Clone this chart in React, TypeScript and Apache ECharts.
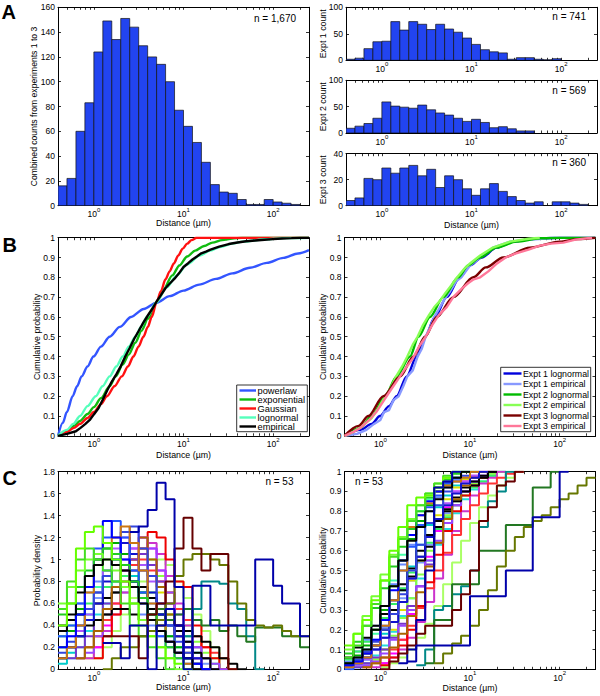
import React, { useEffect, useRef } from "react";
import * as echarts from "echarts";

const FONT = "'Liberation Sans', Arial, Helvetica, sans-serif";

// ---------------- data ----------------
// log-spaced bin edges (µm), 0.1 decade wide
const BIN_EDGES = [0.398, 0.501, 0.631, 0.794, 1, 1.259, 1.585, 1.995, 2.512, 3.162, 3.981, 5.012, 6.31, 7.943, 10, 12.59, 15.85, 19.95, 25.12, 31.62, 39.81, 50.12, 63.1, 79.43, 100, 125.9, 158.5, 199.5, 251.2];
const X_RANGE = [0.398, 251.2];
const X_MAJOR = [1, 10, 100];
const X_MINOR = [0.5, 0.6, 0.7, 0.8, 0.9, 2, 3, 4, 5, 6, 7, 8, 9, 20, 30, 40, 50, 60, 70, 80, 90, 200];

// Panel A histograms (counts per bin)
const HIST_ALL = [16, 22, 60, 83, 124, 149, 134, 151, 144, 129, 120, 114, 100, 77, 64, 51, 35, 17, 11, 10, 5, 1, 1, 5, 3, 2, 1];
const HIST_E1 = [2, 4, 22, 35, 36, 73, 57, 73, 68, 58, 68, 59, 53, 42, 30, 20, 16, 14, 2, 5, 5, 2, 1, 3];
const HIST_E2 = [9, 13, 18, 28, 59, 51, 49, 47, 53, 44, 38, 34, 28, 22, 26, 20, 10, 12, 8, 4, 4];
const HIST_E3 = [4, 6, 21, 20, 29, 25, 29, 31, 23, 28, 14, 23, 20, 13, 8, 13, 17, 11, 7, 4, 2, 3, 0, 3, 3, 2, 1];

// Panel B left: [distance µm, cumulative probability]
const B_POWERLAW = [[0.398, 0], [0.45, 0.065], [0.5, 0.12], [0.58, 0.2], [0.65, 0.25], [0.73, 0.3], [0.85, 0.35], [0.99, 0.4], [1.2, 0.45], [1.5, 0.5], [1.95, 0.55], [2.6, 0.6], [3.6, 0.64], [5.0, 0.672], [7, 0.705], [10, 0.733], [15, 0.763], [23, 0.792], [35, 0.82], [55, 0.848], [85, 0.873], [130, 0.898], [190, 0.92], [251, 0.937]];
const B_EXPONENTIAL = [[0.398, 0], [0.5, 0.025], [0.6, 0.05], [0.7, 0.075], [0.85, 0.11], [1.0, 0.145], [1.2, 0.19], [1.5, 0.25], [1.75, 0.3], [2.1, 0.36], [2.45, 0.41], [2.9, 0.47], [3.4, 0.53], [4.0, 0.59], [5.0, 0.674], [6.0, 0.74], [7.5, 0.81], [9.0, 0.86], [11, 0.905], [13.5, 0.935], [17, 0.958], [21, 0.975], [27, 0.988], [35, 0.996], [45, 1.0], [251, 1.0]];
const B_GAUSSIAN = [[0.398, 0], [0.5, 0.02], [0.6, 0.04], [0.7, 0.06], [0.85, 0.09], [1.0, 0.12], [1.2, 0.16], [1.4, 0.2], [1.7, 0.25], [2.05, 0.3], [2.4, 0.35], [2.76, 0.4], [3.15, 0.45], [3.57, 0.5], [4.0, 0.55], [4.42, 0.6], [5.0, 0.674], [5.6, 0.73], [6.3, 0.79], [7.0, 0.83], [7.8, 0.87], [8.75, 0.91], [9.8, 0.945], [11, 0.97], [12.3, 0.988], [14, 1.0], [251, 1.0]];
const B_LOGNORMAL = [[0.398, 0], [0.5, 0.03], [0.59, 0.06], [0.7, 0.1], [0.85, 0.15], [1.05, 0.2], [1.25, 0.25], [1.5, 0.3], [1.78, 0.35], [2.1, 0.4], [2.45, 0.45], [2.9, 0.5], [3.35, 0.55], [3.9, 0.6], [5.0, 0.674], [6.5, 0.75], [8.4, 0.81], [11, 0.865], [15.2, 0.91], [20, 0.935], [25.5, 0.953], [35, 0.97], [46, 0.98], [80, 0.992], [130, 0.998], [251, 1.0]];
const B_EMPIRICAL = [[0.398, 0], [0.5, 0.01], [0.63, 0.023], [0.71, 0.04], [0.8, 0.059], [0.9, 0.08], [1.0, 0.108], [1.13, 0.14], [1.26, 0.183], [1.41, 0.23], [1.58, 0.272], [1.78, 0.31], [2.0, 0.352], [2.24, 0.4], [2.51, 0.443], [2.82, 0.49], [3.16, 0.529], [3.55, 0.57], [3.98, 0.606], [4.47, 0.64], [5.01, 0.678], [5.6, 0.71], [6.31, 0.746], [7.08, 0.77], [7.94, 0.793], [8.9, 0.82], [10, 0.852], [11.2, 0.87], [12.6, 0.89], [14.1, 0.905], [15.8, 0.921], [17.8, 0.93], [20, 0.94], [25, 0.955], [32, 0.968], [40, 0.976], [50, 0.982], [63, 0.986], [80, 0.99], [100, 0.993], [126, 0.996], [160, 0.998], [200, 1.0], [251, 1.0]];

// Panel B right
const E1_LOGN = [[0.398, 0], [0.6, 0.03], [0.8, 0.06], [0.99, 0.1], [1.25, 0.15], [1.52, 0.2], [1.97, 0.3], [2.54, 0.4], [3.15, 0.5], [4.07, 0.6], [5.49, 0.7], [7.73, 0.8], [10, 0.86], [13.5, 0.9], [19.8, 0.95], [30.3, 0.98], [50, 0.995], [100, 1.0], [251, 1.0]];
const E1_EMP = [[0.398, 0], [0.55, 0.01], [0.7, 0.03], [0.85, 0.06], [1.0, 0.08], [1.1, 0.12], [1.25, 0.13], [1.4, 0.18], [1.6, 0.2], [1.8, 0.25], [2.0, 0.3], [2.3, 0.33], [2.6, 0.4], [2.9, 0.44], [3.2, 0.5], [3.6, 0.55], [4.0, 0.6], [4.5, 0.64], [5.2, 0.69], [6.0, 0.73], [7.0, 0.78], [8.0, 0.8], [10, 0.86], [13, 0.9], [18, 0.95], [28, 0.98], [45, 0.99], [90, 1.0]];
const E2_LOGN = [[0.398, 0], [0.6, 0.04], [0.8, 0.1], [1.13, 0.2], [1.52, 0.3], [2.14, 0.4], [2.66, 0.5], [3.58, 0.6], [5.04, 0.7], [7.41, 0.8], [9.5, 0.86], [12.9, 0.9], [19.8, 0.95], [33, 0.98], [60, 0.997], [100, 1.0], [251, 1.0]];
const E2_EMP = [[0.398, 0], [0.5, 0.02], [0.63, 0.05], [0.8, 0.09], [0.95, 0.14], [1.1, 0.19], [1.3, 0.24], [1.5, 0.3], [1.75, 0.35], [2.0, 0.4], [2.3, 0.46], [2.6, 0.5], [3.0, 0.56], [3.5, 0.61], [4.0, 0.65], [4.6, 0.68], [5.3, 0.72], [6.2, 0.76], [7.2, 0.8], [8.5, 0.84], [10, 0.87], [13, 0.91], [18, 0.95], [28, 0.98], [45, 0.995], [60, 1.0]];
const E3_LOGN = [[0.398, 0], [0.57, 0.05], [0.736, 0.1], [1.08, 0.2], [1.66, 0.3], [2.34, 0.4], [3.15, 0.5], [4.25, 0.6], [6.52, 0.7], [10.9, 0.8], [15, 0.85], [23.5, 0.9], [46.5, 0.95], [100, 0.98], [160, 0.993], [251, 1.0]];
const E3_EMP = [[0.398, 0], [0.5, 0.02], [0.6, 0.04], [0.75, 0.08], [0.9, 0.12], [1.1, 0.18], [1.3, 0.23], [1.6, 0.29], [1.9, 0.34], [2.3, 0.39], [2.7, 0.45], [3.2, 0.5], [3.8, 0.56], [4.5, 0.61], [5.5, 0.65], [6.5, 0.7], [8, 0.74], [9.5, 0.77], [11, 0.79], [13, 0.8], [16, 0.83], [20, 0.87], [25, 0.9], [32, 0.92], [45, 0.94], [60, 0.96], [80, 0.97], [110, 0.975], [150, 0.99], [230, 1.0]];

// Panel C left: probability density per bin (null = no line)
const PDF_LIME1 = [0.4, 0.6, 1.1, 1.25, 1.3, 1.15, 1.0, 0.8, 0.6, 0.4, 0.3, 0.2, 0.1, 0.05, 0];
const PDF_LIME2 = [0.55, 0.8, 1.0, 1.1, 1.0, 0.9, 0.8, 0.6, 0.4, 0.3, 0.2, 0.1, 0];
const PDF_BLACK1 = [0.35, 0.5, 0.7, 0.85, 0.95, 1.0, 0.95, 0.9, 0.75, 0.6, 0.45, 0.35, 0.25, 0.15, 0.1, 0];
const PDF_BLACK2 = [0.1, 0.2, 0.3, 0.4, 0.45, 0.5, 0.55, 0.55, 0.5, 0.45, 0.55, 0.5, 0.45, 0.4, 0.35, 0.3, 0.25, 0.2, 0.1, 0.05, 0];
const PDF_BLUE1 = [0.2, 0.3, 0.5, 0.75, 1.0, 1.35, 1.2, 1.0, 0.8, 0.6, 0.45, 0.35, 0.25, 0.15, 0.1, 0.05, 0];
const PDF_BLUE2 = [0.3, 0.4, 0.6, 0.85, 1.1, 1.2, 1.35, 1.2, 0.9, 0.7, 0.5, 0.3, 0.2, 0.1, 0.05, 0];
const PDF_ORANGE = [0.1, 0.2, 0.4, 0.7, 1.0, 1.15, 1.2, 1.3, 1.15, 0.9, 0.6, 0.4, 0.25, 0.15, 0.05, 0];
const PDF_PURPLE = [null, null, 0.1, 0.15, 0.3, 0.5, 0.7, 1.0, 1.25, 1.2, 1.1, 0.9, 0.7, 0.5, 0.35, 0.2, 0.1, 0.05, 0];
const PDF_MAGENTA = [null, null, null, null, 0.2, 0.4, 0.6, 0.9, 1.1, 1.2, 1.1, 0.9, 0.6, 0.4, 0.2, 0.1, 0];
const PDF_RED = [null, null, null, null, 0.1, 0.3, 0.5, 0.75, 1.0, 1.1, 1.25, 1.2, 1.0, 0.8, 0.75, 0.4, 0.2, 0.1, 0];
const PDF_GREEN = [0.2, 0.35, 0.55, 0.75, 0.95, 1.1, 1.15, 1.05, 0.9, 0.7, 0.5, 0.4, 0.3, 0.2, 0.1, 0.05, 0];
const PDF_CYAN = [0.05, 0.15, 0.3, 0.5, 0.7, 0.9, 1.0, 0.95, 0.85, 0.7, 0.55, 0.45, 0.3, 0.2, 0.1, 0];
const PDF_AQUA = [0.1, 0.2, 0.35, 0.55, 0.75, 0.85, 0.95, 0.9, 0.8, 0.65, 0.55, 0.5, 0.4, 0.3, 0.2, 0.1, 0];
const PDF_LTGREEN = [null, null, 0.1, 0.2, 0.35, 0.5, 0.7, 0.9, 1.05, 1.1, 1.0, 0.85, 0.7, 0.55, 0.4, 0.25, 0.15, 0.1, 0];
const PDF_LTBLUE = [0.3, 0.45, 0.6, 0.7, 0.8, 0.85, 0.8, 0.7, 0.6, 0.5, 0.4, 0.3, 0.25, 0.15, 0.1, 0];
const PDF_YELLOW = [null, null, null, 0.1, 0.3, 0.5, 0.7, 0.9, 1.0, 0.95, 0.85, 0.7, 0.5, 0.35, 0.2, 0.1, 0];
const PDF_VIOLET = [null, 0.2, 0.35, 0.5, 0.7, 0.9, 1.1, 1.2, 1.1, 0.95, 0.8, 0.6, 0.45, 0.3, 0.2, 0.1, 0];
const PDF_GREEN2 = [0.5, 0.6, 0.75, 0.9, 1.0, 1.1, 1.05, 0.95, 0.8, 0.65, 0.5, 0.35, 0.2, 0.1, 0];
const PDF_BLUE3 = [0.15, 0.25, 0.4, 0.55, 0.7, 0.85, 1.05, 1.25, 1.3, 1.1, 0.85, 0.6, 0.4, 0.25, 0.15, 0.05, 0];
const PDF_RED2 = [null, null, 0.1, 0.2, 0.3, 0.45, 0.6, 0.8, 0.95, 1.0, 0.9, 0.8, 0.7, 0.55, 0.45, 0.3, 0.2, 0.15, 0.1, 0];
const PDF_LIME3 = [0.6, 0.75, 0.9, 1.0, 1.05, 1.0, 0.9, 0.75, 0.6, 0.45, 0.3, 0.2, 0.1, 0];
const PDF_PERI = [0.2, 0.3, 0.4, 0.55, 0.65, 0.75, 0.8, 0.85, 0.8, 0.7, 0.6, 0.5, 0.4, 0.3, 0.2, 0.1, 0.05, 0];
const PDF_CYAN2 = [null, 0.1, 0.2, 0.35, 0.5, 0.6, 0.7, 0.8, 0.75, 0.65, 0.55, 0.5, 0.45, 0.35, 0.25, 0.15, 0.1, 0];
const PDF_BROWN = [null, null, 0.1, 0.2, 0.35, 0.55, 0.75, 0.95, 1.15, 1.2, 1.0, 0.75, 0.5, 0.3, 0.15, 0.05, 0];
const PDF_MAGENTA2 = [null, null, null, 0.1, 0.2, 0.35, 0.5, 0.7, 0.9, 1.05, 1.15, 1.05, 0.85, 0.6, 0.4, 0.2, 0.1, 0];
const PDF_GREEN3 = [0.3, 0.4, 0.5, 0.6, 0.7, 0.75, 0.8, 0.85, 0.8, 0.75, 0.7, 0.6, 0.5, 0.4, 0.3, 0.2, 0.1, 0.05, 0];
const PDF_BLACK3 = [0.4, 0.45, 0.5, 0.55, 0.6, 0.65, 0.7, 0.75, 0.8, 0.75, 0.65, 0.55, 0.45, 0.35, 0.25, 0.15, 0.1, 0];
const PDF_BLUE4 = [0.1, 0.2, 0.3, 0.45, 0.6, 0.8, 1.0, 1.15, 1.05, 0.9, 0.7, 0.5, 0.4, 0.3, 0.2, 0.1, 0];
const PDF_LTGREEN2 = [null, null, null, null, 0.1, 0.2, 0.35, 0.5, 0.65, 0.8, 0.95, 1.0, 0.95, 0.8, 0.65, 0.5, 0.35, 0.2, 0.1, 0];
const PDF_PURPLE2 = [null, 0.1, 0.2, 0.3, 0.45, 0.6, 0.75, 0.9, 1.0, 1.05, 0.95, 0.8, 0.6, 0.4, 0.25, 0.1, 0];
const PDF_TEAL = [null, null, null, null, null, null, null, null, null, null, null, null, null, null, 0.3, 0.55, 0.8, 0.8, 0.78, 0.6, 0.55, 0.3, 0];
const PDF_DKGREEN = [null, null, null, null, null, null, null, null, null, 0.3, 0.5, 0.55, 0.45, 0.5, 0.55, 0.45, 0.4, 0.45, 0.35, 0.4, 0.3, 0.25, 0.38, 0.38, 0.38, 0.3, 0.3, 0.2];
const PDF_OLIVE = [null, null, null, null, null, 0, 0.1, 0.2, 0.2, 0.3, 0.35, 0.45, 0.6, 0.85, 1.0, 1.05, 1.05, 1.0, 0.95, 0.8, 0.6, 0.45, 0.4, 0.38, 0.4, 0.35, 0.3, 0.3];
const PDF_DKRED = [null, null, null, null, null, 0.3, 0.3, 0.3, 0.3, 0.1, 0.5, 0.6, 0.8, 1.1, 1.38, 1.1, 0.9, 1.05, 1.05, 0];
const PDF_BLUE_FAR = [null, null, null, null, null, 0.24, 0.24, 0.1, 0.4, 0.4, 0, 0.4, 0.55, 0.4, 0.1, 0.76, 0.76, 0.4, 0.4, 0.4, 0.4, 0.4, 1.0, 1.0, 0.76, 0.6, 0.6, 0.3];
const PDF_BLUE_TALL = [null, null, null, null, null, null, null, null, 1.25, 1.3, 1.45, 1.7, 1.55, 0.75, 0];

// Panel C right: cumulative probability per bin
const CDF_LIME1 = [0.12, 0.18, 0.25, 0.35, 0.45, 0.6, 0.72, 0.83, 0.87, 0.88, 0.92, 0.97, 1.0];
const CDF_LIME2 = [0.06, 0.12, 0.22, 0.33, 0.45, 0.57, 0.66, 0.75, 0.83, 0.89, 0.94, 0.98, 1.0];
const CDF_BLACK1 = [0.03, 0.06, 0.1, 0.2, 0.32, 0.42, 0.55, 0.65, 0.72, 0.8, 0.86, 0.92, 0.97, 1.0];
const CDF_BLACK2 = [0.02, 0.04, 0.08, 0.12, 0.2, 0.3, 0.4, 0.47, 0.55, 0.62, 0.72, 0.8, 0.85, 0.9, 0.93, 0.97, 1.0];
const CDF_BLUE1 = [0.02, 0.04, 0.08, 0.15, 0.25, 0.4, 0.55, 0.68, 0.78, 0.85, 0.9, 0.95, 1.0];
const CDF_BLUE2 = [0, 0.03, 0.06, 0.12, 0.22, 0.35, 0.5, 0.62, 0.73, 0.82, 0.88, 0.94, 0.97, 1.0];
const CDF_ORANGE = [0.01, 0.03, 0.06, 0.12, 0.22, 0.35, 0.5, 0.72, 0.78, 0.84, 0.9, 0.93, 0.95, 0.97, 1.0];
const CDF_PURPLE = [null, null, 0.02, 0.04, 0.08, 0.15, 0.22, 0.3, 0.42, 0.55, 0.65, 0.74, 0.83, 0.9, 0.95, 0.98, 1.0];
const CDF_MAGENTA = [null, null, null, null, 0.03, 0.08, 0.15, 0.28, 0.42, 0.57, 0.7, 0.82, 0.9, 0.95, 0.98, 1.0];
const CDF_RED = [null, null, null, null, 0.02, 0.06, 0.12, 0.2, 0.32, 0.44, 0.58, 0.7, 0.8, 0.88, 0.93, 0.97, 1.0];
const CDF_GREEN = [0.03, 0.07, 0.12, 0.2, 0.3, 0.42, 0.55, 0.66, 0.75, 0.83, 0.9, 0.94, 0.97, 1.0];
const CDF_CYAN = [null, 0.02, 0.05, 0.1, 0.18, 0.28, 0.4, 0.52, 0.63, 0.73, 0.82, 0.88, 0.93, 0.97, 1.0];
const CDF_AQUA = [0.02, 0.05, 0.1, 0.18, 0.3, 0.45, 0.58, 0.72, 0.8, 0.86, 0.9, 0.94, 0.97, 1.0];
const CDF_LTGREEN = [null, null, 0.02, 0.05, 0.1, 0.17, 0.26, 0.36, 0.48, 0.6, 0.7, 0.78, 0.85, 0.9, 0.94, 0.97, 0.99, 1.0];
const CDF_LTBLUE = [0.04, 0.09, 0.15, 0.22, 0.32, 0.43, 0.53, 0.63, 0.72, 0.8, 0.87, 0.92, 0.96, 1.0];
const CDF_YELLOW = [null, null, null, 0.05, 0.1, 0.2, 0.3, 0.45, 0.55, 0.68, 0.78, 0.86, 0.92, 0.96, 1.0];
const CDF_VIOLET = [null, 0.02, 0.05, 0.1, 0.16, 0.24, 0.34, 0.46, 0.57, 0.67, 0.76, 0.84, 0.9, 0.95, 0.98, 1.0];
const CDF_GREEN2 = [0.08, 0.14, 0.22, 0.31, 0.41, 0.52, 0.62, 0.71, 0.8, 0.87, 0.92, 0.96, 0.99, 1.0];
const CDF_BLUE3 = [0.02, 0.05, 0.09, 0.14, 0.2, 0.28, 0.38, 0.5, 0.63, 0.74, 0.83, 0.9, 0.95, 0.98, 1.0];
const CDF_RED2 = [null, null, 0.01, 0.03, 0.06, 0.1, 0.15, 0.22, 0.31, 0.41, 0.5, 0.59, 0.68, 0.76, 0.83, 0.89, 0.94, 0.97, 0.99, 1.0];
const CDF_LIME3 = [0.1, 0.18, 0.27, 0.37, 0.48, 0.58, 0.67, 0.76, 0.83, 0.89, 0.94, 0.97, 1.0];
const CDF_PERI = [0.03, 0.06, 0.1, 0.15, 0.21, 0.28, 0.36, 0.45, 0.54, 0.63, 0.71, 0.79, 0.85, 0.9, 0.94, 0.97, 0.99, 1.0];
const CDF_CYAN2 = [null, 0.01, 0.03, 0.07, 0.12, 0.19, 0.27, 0.36, 0.46, 0.55, 0.63, 0.71, 0.79, 0.86, 0.91, 0.95, 0.98, 1.0];
const CDF_BROWN = [null, null, 0.01, 0.03, 0.06, 0.11, 0.18, 0.27, 0.39, 0.52, 0.64, 0.76, 0.86, 0.93, 0.97, 1.0];
const CDF_MAGENTA2 = [null, null, null, 0.01, 0.03, 0.06, 0.1, 0.16, 0.24, 0.34, 0.46, 0.58, 0.7, 0.8, 0.88, 0.94, 0.97, 1.0];
const CDF_GREEN3 = [0.05, 0.09, 0.14, 0.2, 0.26, 0.33, 0.41, 0.49, 0.57, 0.64, 0.71, 0.77, 0.83, 0.88, 0.92, 0.95, 0.98, 1.0];
const CDF_BLACK3 = [0.06, 0.11, 0.16, 0.22, 0.28, 0.35, 0.43, 0.51, 0.6, 0.68, 0.75, 0.81, 0.87, 0.92, 0.95, 0.98, 1.0];
const CDF_BLUE4 = [0.01, 0.03, 0.06, 0.1, 0.16, 0.24, 0.34, 0.46, 0.57, 0.67, 0.76, 0.83, 0.89, 0.94, 0.97, 1.0];
const CDF_LTGREEN2 = [null, null, null, null, 0.01, 0.03, 0.06, 0.1, 0.16, 0.23, 0.32, 0.43, 0.54, 0.65, 0.74, 0.82, 0.88, 0.93, 0.97, 1.0];
const CDF_PURPLE2 = [null, 0.01, 0.03, 0.06, 0.1, 0.16, 0.23, 0.32, 0.42, 0.53, 0.64, 0.74, 0.83, 0.9, 0.95, 0.98, 1.0];
const CDF_BLUE_TALL = [null, null, null, null, null, null, 0.03, 0.1, 0.25, 0.5, 0.92, 0.95, 1.0];
const CDF_TEAL = [null, null, null, null, null, null, null, null, 0.02, 0.1, 0.3, 0.32, 0.38, 0.42, 0.5, 0.72, 0.85, 0.9, 1.0];
const CDF_DKGREEN = [null, null, null, null, null, null, null, null, null, 0.03, 0.25, 0.25, 0.43, 0.43, 0.43, 0.6, 0.6, 0.6, 0.73, 0.73, 0.73, 0.92, 0.92, 1.0];
const CDF_DKRED = [null, null, null, null, 0, 0.04, 0.08, 0.12, 0.18, 0.22, 0.22, 0.22, 0.3, 0.38, 0.5, 0.75, 0.82, 0.93, 0.95, 1.0];
const CDF_OLIVE = [null, null, null, null, null, null, null, null, null, null, 0.03, 0.08, 0.13, 0.17, 0.22, 0.3, 0.4, 0.52, 0.6, 0.67, 0.72, 0.75, 0.78, 0.82, 0.86, 0.89, 0.93, 0.97];
const CDF_BLUE_FAR = [null, null, null, null, null, null, null, 0.04, 0.12, 0.12, 0.12, 0.12, 0.12, 0.12, 0.37, 0.37, 0.37, 0.37, 0.5, 0.5, 0.5, 0.77, 0.77, 0.77, 1.0];

// ---------------- styles ----------------
const BAR_COLOR = "#2244f0";
const C_COLORS = {
  lime1: "#66ff00", lime2: "#44dd22", lime3: "#77ff33", black: "#000000", blue1: "#0000ff", blue2: "#2255ff",
  blue3: "#3344dd", blue4: "#1111cc", orange: "#cc7711", brown: "#aa6600", purple: "#9944ff", purple2: "#7733cc",
  violet: "#aa55ff", magenta: "#ff00ff", magenta2: "#cc33cc", red: "#ee0000", red2: "#ff3333", green: "#00aa00",
  green2: "#22cc22", green3: "#33ee66", cyan: "#00cccc", cyan2: "#22dddd", aqua: "#44ffaa", ltgreen: "#88ff44",
  ltgreen2: "#aaff66", ltblue: "#6688ff", peri: "#7799ff", yellow: "#dddd00",
  teal: "#008888", dkgreen: "#227722", olive: "#667700", dkred: "#660000", dkblue: "#0000aa",
};

const GRIDS = [
  { left: 58, top: 7.3, width: 251, height: 198.4 },
  { left: 346, top: 7.3, width: 251, height: 53 },
  { left: 346, top: 80.3, width: 251, height: 52.7 },
  { left: 346, top: 153.7, width: 251, height: 52 },
  { left: 58, top: 237.7, width: 251, height: 198.1 },
  { left: 344.5, top: 237.7, width: 251, height: 198.1 },
  { left: 58, top: 471.7, width: 251, height: 197.6 },
  { left: 344.5, top: 471.7, width: 251, height: 197.6 },
];
const Y_SCALES = [
  [0, 160, 20], [0, 100, 50], [0, 100, 50], [0, 40, 20],
  [0, 1, 0.1], [0, 1, 0.1], [0, 1.8, 0.2], [0, 1, 0.1],
];

const lg = (v: number) => Math.log10(v);

function buildOption() {
  const grid: any[] = [];
  const xAxis: any[] = [];
  const yAxis: any[] = [];
  const majorLog = X_MAJOR.map(lg);
  const tickLog = X_MAJOR.concat(X_MINOR).map(lg);
  GRIDS.forEach((g, gi) => {
    grid.push({ ...g, show: false, containLabel: false, outerBoundsMode: "none" });
    const baseX = {
      gridIndex: gi, type: "value", min: lg(X_RANGE[0]), max: lg(X_RANGE[1]),
      axisLine: { show: true, onZero: false, lineStyle: { color: "#000", width: 1 } },
      axisTick: { show: true, inside: true, length: 2.5, customValues: tickLog, lineStyle: { color: "#000", width: 0.8 } },
      splitLine: { show: false },
    };
    xAxis.push({
      ...baseX, position: "bottom",
      axisLabel: {
        show: true, customValues: majorLog, margin: 1,
        formatter: (v: number) => `{b|10}{s|${Math.round(v)}}`,
        rich: {
          b: { fontSize: 8.5, fontFamily: FONT, color: "#000", verticalAlign: "bottom", lineHeight: 12 },
          s: { fontSize: 6, fontFamily: FONT, color: "#000", verticalAlign: "top", lineHeight: 12 },
        },
      },
    });
    xAxis.push({ ...baseX, position: "top", axisLabel: { show: false } });
    const [mn, mx, iv] = Y_SCALES[gi];
    const baseY = {
      gridIndex: gi, type: "value", min: mn, max: mx, interval: iv,
      axisLine: { show: true, onZero: false, lineStyle: { color: "#000", width: 1 } },
      axisTick: { show: true, inside: true, length: 3, lineStyle: { color: "#000", width: 0.8 } },
      splitLine: { show: false },
    };
    yAxis.push({ ...baseY, position: "left", axisLabel: { show: true, margin: 3, fontSize: 8.5, fontFamily: FONT, color: "#000" } });
    yAxis.push({ ...baseY, position: "right", axisLabel: { show: false } });
  });

  const series: any[] = [];
  const histSeries = (counts: number[], gi: number) => ({
    type: "custom", xAxisIndex: gi * 2, yAxisIndex: gi * 2, clip: true,
    encode: { x: [0, 1], y: 2 },
    data: counts.map((c, i) => [lg(BIN_EDGES[i]), lg(BIN_EDGES[i + 1]), c]),
    renderItem: (_p: any, api: any) => {
      const a = api.coord([api.value(0), 0]);
      const b = api.coord([api.value(1), api.value(2)]);
      return {
        type: "rect",
        shape: { x: a[0], y: b[1], width: b[0] - a[0], height: a[1] - b[1] },
        style: { fill: BAR_COLOR, stroke: "#111", lineWidth: 0.7 },
      };
    },
  });
  series.push(histSeries(HIST_ALL, 0), histSeries(HIST_E1, 1), histSeries(HIST_E2, 2), histSeries(HIST_E3, 3));

  const curve = (pts: number[][], gi: number, color: string, width: number, smooth: boolean) => ({
    type: "line", xAxisIndex: gi * 2, yAxisIndex: gi * 2, showSymbol: false, symbol: "none",
    smooth: smooth ? 0.3 : false, smoothMonotone: smooth ? "x" : undefined,
    data: pts.map(([d, p]) => [lg(d), p]),
    lineStyle: { color, width }, silent: true,
  });
  series.push(
    curve(B_POWERLAW, 4, "#3355ff", 2.4, true),
    curve(B_EXPONENTIAL, 4, "#11bb11", 2.4, true),
    curve(B_GAUSSIAN, 4, "#ff1111", 2.4, true),
    curve(B_LOGNORMAL, 4, "#55ffbb", 2.4, true),
    curve(B_EMPIRICAL, 4, "#000000", 2.4, false),
    curve(E1_LOGN, 5, "#0000dd", 2.4, true),
    curve(E1_EMP, 5, "#8899ff", 2.4, false),
    curve(E2_LOGN, 5, "#00bb00", 2.4, true),
    curve(E2_EMP, 5, "#88ff55", 2.4, false),
    curve(E3_LOGN, 5, "#7a0000", 2.4, true),
    curve(E3_EMP, 5, "#ff7799", 2.4, false),
  );

  const stepData = (vals: (number | null)[]) => {
    const out: number[][] = [];
    let last = -1;
    vals.forEach((v, i) => {
      if (v !== null && v !== undefined) { out.push([lg(BIN_EDGES[i]), v]); last = i; }
    });
    if (last >= 0) out.push([lg(BIN_EDGES[last + 1]), vals[last] as number]);
    return out;
  };
  const stepSeries = (vals: (number | null)[], gi: number, color: string) => ({
    type: "line", xAxisIndex: gi * 2, yAxisIndex: gi * 2, step: "end", showSymbol: false, symbol: "none",
    data: stepData(vals), lineStyle: { color, width: 2 }, silent: true,
  });
  const C = C_COLORS;
  const pdfs: [(number | null)[], string][] = [
    [PDF_LTBLUE, C.ltblue], [PDF_PERI, C.peri], [PDF_AQUA, C.aqua], [PDF_CYAN, C.cyan], [PDF_CYAN2, C.cyan2],
    [PDF_YELLOW, C.yellow], [PDF_GREEN3, C.green3], [PDF_GREEN, C.green], [PDF_LTGREEN2, C.ltgreen2],
    [PDF_LTGREEN, C.ltgreen], [PDF_MAGENTA2, C.magenta2], [PDF_MAGENTA, C.magenta], [PDF_RED2, C.red2],
    [PDF_RED, C.red], [PDF_PURPLE2, C.purple2], [PDF_PURPLE, C.purple], [PDF_VIOLET, C.violet],
    [PDF_BLACK3, C.black], [PDF_BLACK2, C.black], [PDF_BROWN, C.brown], [PDF_BLUE4, C.blue4],
    [PDF_BLUE3, C.blue3], [PDF_BLUE2, C.blue2], [PDF_ORANGE, C.orange], [PDF_BLUE1, C.blue1],
    [PDF_GREEN2, C.green2], [PDF_LIME3, C.lime3], [PDF_LIME2, C.lime2], [PDF_BLACK1, C.black], [PDF_LIME1, C.lime1],
    [PDF_TEAL, C.teal], [PDF_DKGREEN, C.dkgreen], [PDF_OLIVE, C.olive], [PDF_DKRED, C.dkred],
    [PDF_BLUE_FAR, C.dkblue], [PDF_BLUE_TALL, C.dkblue],
  ];
  pdfs.forEach(([v, c]) => series.push(stepSeries(v, 6, c)));
  const cdfs: [(number | null)[], string][] = [
    [CDF_LTBLUE, C.ltblue], [CDF_PERI, C.peri], [CDF_AQUA, C.aqua], [CDF_CYAN, C.cyan], [CDF_CYAN2, C.cyan2],
    [CDF_YELLOW, C.yellow], [CDF_GREEN3, C.green3], [CDF_GREEN, C.green], [CDF_LTGREEN2, C.ltgreen2],
    [CDF_LTGREEN, C.ltgreen], [CDF_MAGENTA2, C.magenta2], [CDF_MAGENTA, C.magenta], [CDF_RED2, C.red2],
    [CDF_RED, C.red], [CDF_PURPLE2, C.purple2], [CDF_PURPLE, C.purple], [CDF_VIOLET, C.violet],
    [CDF_BLACK3, C.black], [CDF_BLACK2, C.black], [CDF_BROWN, C.brown], [CDF_BLUE4, C.blue4],
    [CDF_BLUE3, C.blue3], [CDF_BLUE2, C.blue2], [CDF_ORANGE, C.orange], [CDF_BLUE1, C.blue1],
    [CDF_GREEN2, C.green2], [CDF_LIME3, C.lime3], [CDF_LIME2, C.lime2], [CDF_BLACK1, C.black], [CDF_LIME1, C.lime1],
    [CDF_BLUE_TALL, C.dkblue], [CDF_TEAL, C.teal], [CDF_DKGREEN, C.dkgreen], [CDF_DKRED, C.dkred],
    [CDF_OLIVE, C.olive], [CDF_BLUE_FAR, C.dkblue],
  ];
  cdfs.forEach(([v, c]) => series.push(stepSeries(v, 7, c)));

  // ---------- graphic texts / legends ----------
  const txt = (text: string, x: number, y: number, opts: any = {}) => ({
    type: "text", x, y, rotation: opts.rotation || 0, silent: true, z: 100,
    style: {
      text, fill: "#000", fontFamily: FONT, fontSize: opts.size || 8.8, fontWeight: opts.weight || "normal",
      align: opts.align || "center", verticalAlign: "middle",
      textAlign: opts.align || "center", textVerticalAlign: "middle",
    },
  });
  const rot = Math.PI / 2;
  const graphic: any[] = [
    txt("A", 1.5, 12.2, { size: 20, weight: "bold", align: "left" }),
    txt("B", 2.5, 244.7, { size: 20, weight: "bold", align: "left" }),
    txt("C", 2.5, 477.5, { size: 20, weight: "bold", align: "left" }),
    txt("Combined counts from experiments 1 to 3", 33.5, 106.5, { rotation: rot, size: 8.6 }),
    txt("Expt 1 count", 323, 33.8, { rotation: rot }),
    txt("Expt 2 count", 323, 106.7, { rotation: rot }),
    txt("Expt 3 count", 323, 179.8, { rotation: rot }),
    txt("Cumulative probability", 36.5, 336.8, { rotation: rot }),
    txt("Cumulative probability", 322.5, 336.8, { rotation: rot }),
    txt("Probability density", 36.5, 570.5, { rotation: rot }),
    txt("Cumulative probability", 322.5, 570.5, { rotation: rot }),
    txt("Distance (µm)", 183.5, 222.7),
    txt("Distance (µm)", 471.5, 224.5),
    txt("Distance (µm)", 183.5, 455),
    txt("Distance (µm)", 470, 454.5),
    txt("Distance (µm)", 183.5, 686.7),
    txt("Distance (µm)", 470, 687.5),
    txt("n = 1,670", 296, 18.3, { size: 10, align: "right" }),
    txt("n = 741", 586, 16.7, { size: 10, align: "right" }),
    txt("n = 569", 586, 90, { size: 10, align: "right" }),
    txt("n = 360", 586, 162.7, { size: 10, align: "right" }),
    txt("n = 53", 293.5, 481.7, { size: 10, align: "right" }),
    txt("n = 53", 355, 481, { size: 10, align: "left" }),
  ];
  const legend = (x: number, y: number, w: number, h: number, rowY0: number, dy: number, lx0: number, lx1: number, tx: number, size: number, items: [string, string][]) => {
    graphic.push({ type: "rect", silent: true, z: 90, shape: { x, y, width: w, height: h }, style: { fill: "#fff", stroke: "#000", lineWidth: 0.8 } });
    items.forEach(([label, color], k) => {
      const yy = rowY0 + dy * k;
      graphic.push({ type: "line", silent: true, z: 95, shape: { x1: lx0, y1: yy, x2: lx1, y2: yy }, style: { stroke: color, lineWidth: 2.4 } });
      graphic.push(txt(label, tx, yy, { size, align: "left" }));
    });
  };
  legend(236.7, 385, 70.6, 46.7, 390.5, 9, 239.5, 256, 257.5, 9.3, [
    ["powerlaw", "#3355ff"], ["exponential", "#11bb11"], ["Gaussian", "#ff1111"], ["lognormal", "#55ffbb"], ["empirical", "#000000"],
  ]);
  legend(500.7, 367.3, 90, 64.4, 373.5, 10.5, 503.5, 521.5, 523, 8.8, [
    ["Expt 1 lognormal", "#0000dd"], ["Expt 1 empirical", "#8899ff"], ["Expt 2 lognormal", "#00bb00"],
    ["Expt 2 empirical", "#88ff55"], ["Expt 3 lognormal", "#7a0000"], ["Expt 3 empirical", "#ff7799"],
  ]);

  return { animation: false, backgroundColor: "#fff", grid, xAxis, yAxis, series, graphic };
}

export default function App() {
  const ref = useRef<HTMLDivElement>(null);
  useEffect(() => {
    const chart = echarts.init(ref.current!, null, { renderer: "svg", width: 600, height: 696 });
    chart.setOption(buildOption() as any);
    return () => chart.dispose();
  }, []);
  return <div ref={ref} style={{ position: "absolute", left: 0, top: 0, width: 600, height: 696, background: "#fff" }} />;
}
